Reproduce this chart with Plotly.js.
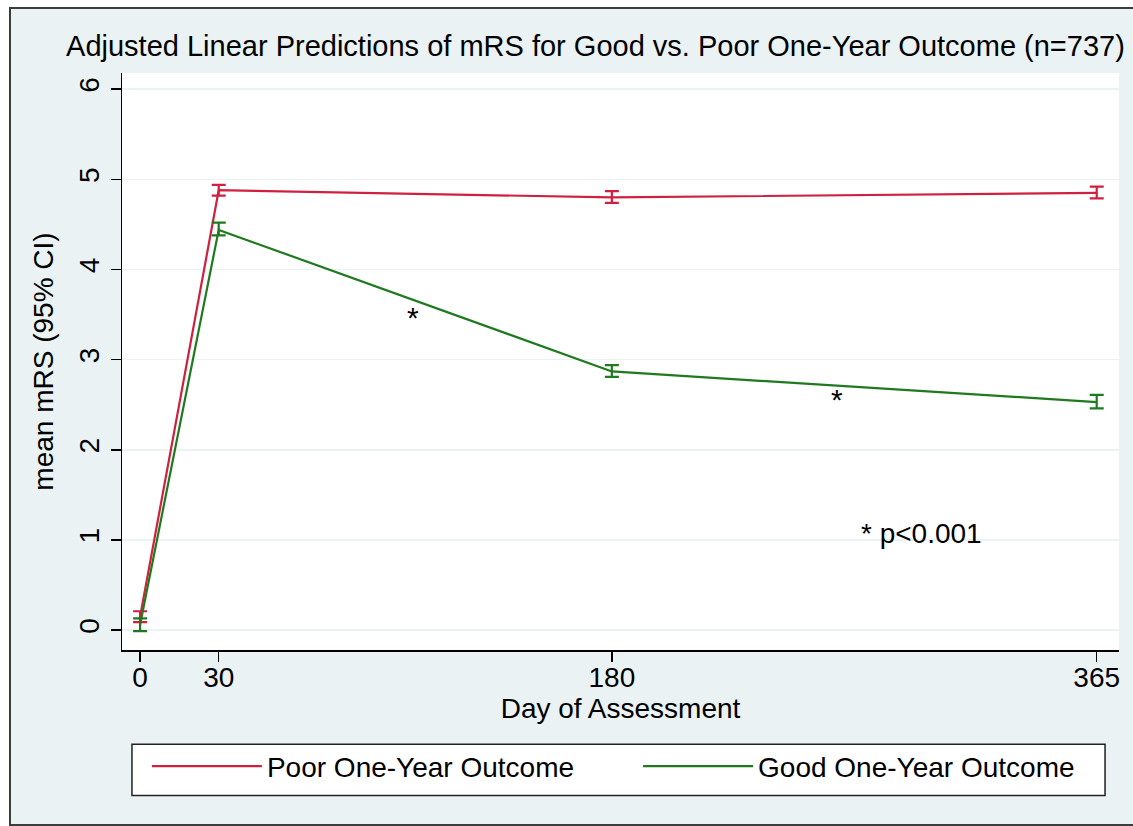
<!DOCTYPE html>
<html>
<head>
<meta charset="utf-8">
<script src="https://cdn.plot.ly/plotly-3.0.1.min.js"></script>
<style>
  html, body { margin: 0; padding: 0; background: #ffffff; }
  #wrap { position: absolute; left: 9px; top: 7px; width: 1124px; height: 815px;
          border-left: 2px solid #3c3c3c; border-top: 2px solid #3c3c3c; border-bottom: 2px solid #3c3c3c;
          background: #EAF2F3; }
  #chart { width: 1124px; height: 815px; }
</style>
</head>
<body>
<div id="wrap"><div id="chart"></div></div>
<script>
// Data
const days = [0, 30, 180, 365];
const poorMean = [0.15, 4.88, 4.80, 4.85];
const poorUpper = [0.21, 4.94, 4.87, 4.92];
const poorLower = [0.09, 4.82, 4.74, 4.79];
const goodMean = [0.06, 4.44, 2.87, 2.53];
const goodUpper = [0.13, 4.52, 2.94, 2.61];
const goodLower = [-0.01, 4.38, 2.81, 2.46];
const xTicks = [0, 30, 180, 365];
const yTicks = [0, 1, 2, 3, 4, 5, 6];
const seriesNames = ["Poor One-Year Outcome", "Good One-Year Outcome"];
const sigMarks = [{x: 104, y: 3.47, text: "*"}, {x: 266, y: 2.56, text: "*"}];
const noteText = "* p<0.001";

const RED = "#D0203F";
const GREEN = "#1F7A1F";
const FONT = "Liberation Sans, Arial, sans-serif";
const FS = 28;

function errs(mean, up, lo) {
  return {
    type: "data", symmetric: false,
    array: mean.map((m, i) => up[i] - m),
    arrayminus: mean.map((m, i) => m - lo[i]),
    thickness: 2.2, width: 7
  };
}

const traces = [
  { x: days, y: poorMean, type: "scatter", mode: "lines", name: seriesNames[0], legend: "legend",
    line: { color: RED, width: 2.2 }, error_y: Object.assign(errs(poorMean, poorUpper, poorLower), { color: RED }) },
  { x: days, y: goodMean, type: "scatter", mode: "lines", name: seriesNames[1], legend: "legend2",
    line: { color: GREEN, width: 2.2 }, error_y: Object.assign(errs(goodMean, goodUpper, goodLower), { color: GREEN }) }
];

const annotations = sigMarks.map(s => ({
  x: s.x, y: s.y, xref: "x", yref: "y", text: s.text, showarrow: false,
  font: { family: FONT, size: 30, color: "#000" }
}));
annotations.push({ x: 298, y: 1.07, xref: "x", yref: "y", text: noteText, showarrow: false,
  font: { family: FONT, size: FS, color: "#000" } });

const legendCommon = {
  orientation: "h", xanchor: "left", y: -0.2017, yanchor: "middle",
  bgcolor: "rgba(0,0,0,0)", borderwidth: 0, itemwidth: 110,
  font: { family: FONT, size: FS, color: "#000" }
};

const layout = {
  width: 1124, height: 815,
  margin: { l: 111, r: 16, t: 64, b: 174 },
  paper_bgcolor: "#EAF2F3",
  plot_bgcolor: "#ffffff",
  font: { family: FONT, color: "#000" },
  title: { text: "Adjusted Linear Predictions of mRS for Good vs. Poor One-Year Outcome (n=737)",
           font: { family: FONT, size: 29, color: "#000" }, x: 0.52, xref: "container", xanchor: "center",
           y: 0.955, yref: "container", yanchor: "middle" },
  xaxis: {
    range: [-6.9, 373.5], tickvals: xTicks, ticktext: xTicks.map(String),
    showgrid: false, zeroline: false, showline: true, linecolor: "#000", linewidth: 1.5,
    ticks: "outside", ticklen: 10, tickwidth: 1.5, tickcolor: "#000", ticklabelstandoff: -8,
    tickfont: { family: FONT, size: FS, color: "#000" },
    title: { text: "Day of Assessment", font: { family: FONT, size: FS, color: "#000" }, standoff: 2 }
  },
  yaxis: {
    range: [-0.22, 6.18], tickvals: yTicks, ticktext: yTicks.map(String),
    showgrid: true, gridcolor: "#EAF2F3", gridwidth: 1.5,
    zeroline: false, showline: true, linecolor: "#000", linewidth: 1.5,
    ticks: "outside", ticklen: 10, tickwidth: 1.5, tickcolor: "#000", tickangle: -90,
    tickfont: { family: FONT, size: FS, color: "#000" },
    title: { text: "mean mRS (95% CI)", font: { family: FONT, size: FS, color: "#000" }, standoff: 12 }
  },
  showlegend: true,
  legend: Object.assign({}, legendCommon, { x: 0.025 }),
  legend2: Object.assign({}, legendCommon, { x: 0.5176 }),
  shapes: [
    { type: "rect", xref: "paper", yref: "paper", x0: 0.01, x1: 0.986, y0: -0.1635, y1: -0.252,
      fillcolor: "#ffffff", line: { color: "#222", width: 1.5 }, layer: "below" }
  ],
  annotations: annotations
};

Plotly.newPlot("chart", traces, layout, { displayModeBar: false, staticPlot: true });
</script>
</body>
</html>
